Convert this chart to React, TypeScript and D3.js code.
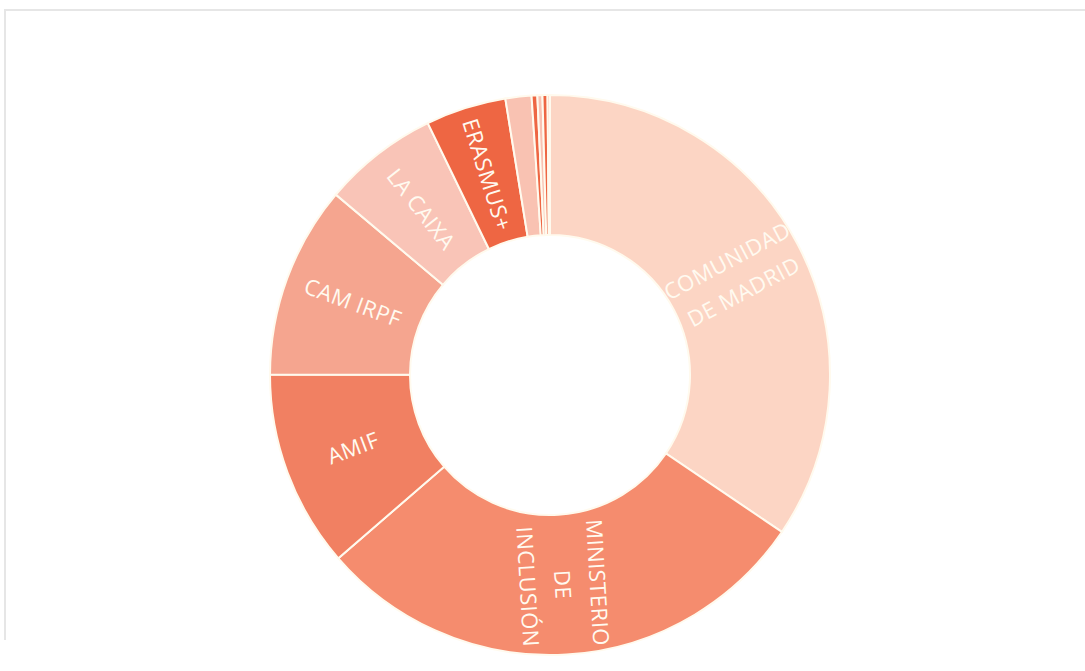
import React from "react";
import * as d3 from "d3";

const categories = [
  "COMUNIDAD DE MADRID",
  "MINISTERIO DE INCLUSIÓN",
  "AMIF",
  "CAM IRPF",
  "LA CAIXA",
  "ERASMUS+",
  "OTROS 1",
  "OTROS 2",
  "OTROS 3",
  "OTROS 4",
  "OTROS 5",
];
const values = [34.47, 29.17, 11.39, 11.11, 6.67, 4.64, 1.5, 0.33, 0.29, 0.29, 0.14];
const labelLines = [
  ["COMUNIDAD", "DE MADRID"],
  ["MINISTERIO", "DE", "INCLUSIÓN"],
  ["AMIF"],
  ["CAM IRPF"],
  ["LA CAIXA"],
  ["ERASMUS+"],
  [],
  [],
  [],
  [],
  [],
];
const colors = [
  "#fcd5c4",
  "#f58c6e",
  "#f18062",
  "#f5a58f",
  "#f9c4b7",
  "#ee6643",
  "#f9c2b2",
  "#ee6643",
  "#f9c2b2",
  "#ee6643",
  "#f9c2b2",
];

const W = 1085;
const H = 671;
const CX = 550;
const CY = 375;
const R_OUT = 280;
const R_IN = 140;

export default function App() {
  const data = categories.map((c, i) => ({ name: c, value: values[i], i }));
  const pie = d3.pie<any>().value((d) => d.value).sort(null);
  const arcs = pie(data);
  const arc = d3.arc<any>().innerRadius(R_IN).outerRadius(R_OUT);
  const rMid = (R_IN + R_OUT) / 2;
  const lineH = 35;

  return (
    <svg
      width={W}
      height={H}
      style={{ position: "absolute", left: 0, top: 0, background: "#ffffff" }}
    >
      <line x1={4} y1={10} x2={W} y2={10} stroke="#e6e6e6" strokeWidth={2} />
      <line x1={5} y1={10} x2={5} y2={640} stroke="#e6e6e6" strokeWidth={2} />
      <g transform={`translate(${CX},${CY})`}>
        {arcs.map((a, k) => (
          <path
            key={k}
            d={arc(a) || ""}
            fill={colors[k]}
            stroke="#fffaee"
            strokeWidth={2}
          />
        ))}
        {arcs.map((a, k) => {
          const lines = labelLines[k];
          if (!lines.length) return null;
          const mid = (a.startAngle + a.endAngle) / 2;
          const x = rMid * Math.sin(mid);
          const y = -rMid * Math.cos(mid);
          let deg = (mid * 180) / Math.PI - 90;
          if (deg > 90) deg -= 180;
          const n = lines.length;
          return (
            <text
              key={"t" + k}
              transform={`translate(${x},${y}) rotate(${deg})`}
              textAnchor="middle"
              fill="#fffaf0"
              fontFamily="'Open Sans', sans-serif"
              fontSize={22}
              letterSpacing={0.5}
            >
              {lines.map((l, j) => (
                <tspan key={j} x={0} y={(j - (n - 1) / 2) * lineH} dy="0.35em">
                  {l}
                </tspan>
              ))}
            </text>
          );
        })}
      </g>
    </svg>
  );
}
